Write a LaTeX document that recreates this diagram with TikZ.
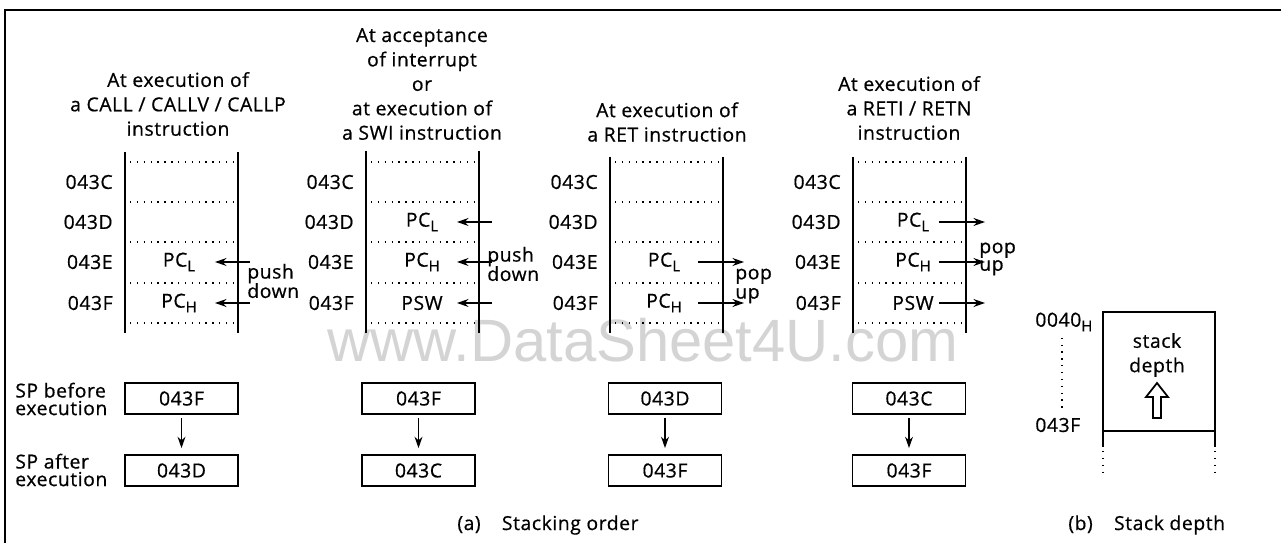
\documentclass[tikz,border=0pt]{standalone}
\usepackage{fontspec}
\setmainfont{Open Sans}[FakeBold=0.6, LetterSpace=3]
\newfontfamily\wmfont{Liberation Sans}
\usetikzlibrary{arrows.meta,calc}
\newcommand{\lsub}[1]{\raisebox{-0.45ex}{\fontsize{8.5}{8.5}\selectfont #1}}
\newcommand{\tightls}{\setlength{\lineskiplimit}{-20pt}}
\begin{document}
\begin{tikzpicture}[x=0.02cm,y=-0.02cm,
  every node/.style={font=\fontsize{11}{13.9}\selectfont, inner sep=0pt},
  stackline/.style={line width=1.2pt},
  dotline/.style={line width=0.8pt, dash pattern=on 0.8pt off 3.1pt},
  arr/.style={line width=0.9pt, -{Stealth[length=6.5pt,width=4.5pt]}},
  spbox/.style={draw, line width=1pt, minimum width=2.26cm, minimum height=0.62cm},
  title/.style={align=center},
  note/.style={align=left, font=\fontsize{11}{11}\selectfont\tightls},
  note4/.style={align=left, font=\fontsize{11}{10}\selectfont\tightls},
  sptext/.style={align=left, font=\fontsize{11}{10}\selectfont\tightls},
]
\useasboundingbox (0,0) rectangle (1281,543);
% watermark
\node[font=\fontsize{34}{34}\wmfont\selectfont, text=black!17, anchor=base] (wm) at (643,362) {www.DataSheet4U.com};
% frame
\draw[line width=1.4pt] (5,543) -- (5,10) -- (1281,10);
% stacks
\foreach \i/\xl/\yt in {1/125/152,2/366/151,3/610/157,4/853/157} {
  \draw[stackline] (\xl,\yt) -- (\xl,333);
  \draw[stackline] (\xl+113,\yt) -- (\xl+113,333);
  \foreach \yy in {162,202,242,283,323} \draw[dotline] (\xl+5,\yy) -- (\xl+108,\yy);
  \foreach \r/\yy in {C/182,D/222,E/262,F/303} \node[anchor=east] (lab\i\r) at (\xl-12,\yy) {043\r};
}
% titles
\node[title] (t1) at (178,104) {At execution of\\a CALL\ /\ CALLV\ /\ CALLP\\instruction};
\node[title] (t2) at (422,84) {At acceptance\\of interrupt\\or\\at execution of\\a SWI instruction};
\node[title] (t3) at (667,122) {At execution of\\a RET instruction};
\node[title] (t4) at (909,108) {At execution of\\a RETI\ /\ RETN\\instruction};
% stack 1 contents
\node (s1e) at (179,262) {PC\lsub{L}};
\node (s1f) at (179,303) {PC\lsub{H}};
\coordinate (s1ea) at (250,262); \coordinate (s1et) at (215,262);
\coordinate (s1fa) at (250,303); \coordinate (s1ft) at (215,303);
\draw[arr] (s1ea) -- (s1et);
\draw[arr] (s1fa) -- (s1ft);
\node[note, anchor=west] (s1pd) at (247,281) {push\\down};
% stack 2 contents
\node (s2d) at (422,222) {PC\lsub{L}};
\node (s2e) at (422,262) {PC\lsub{H}};
\node (s2f) at (422,303) {PSW};
\foreach \r/\yy in {d/222,e/262,f/303} {
  \coordinate (s2\r a) at (492,\yy); \coordinate (s2\r t) at (457,\yy);
  \draw[arr] (s2\r a) -- (s2\r t);
}
\node[note, anchor=west] (s2pd) at (487,264) {push\\down};
% stack 3 contents
\node (s3e) at (664,262) {PC\lsub{L}};
\node (s3f) at (664,303) {PC\lsub{H}};
\foreach \r/\yy in {e/262,f/303} {
  \coordinate (s3\r a) at (698,\yy); \coordinate (s3\r t) at (744,\yy);
  \draw[arr] (s3\r a) -- (s3\r t);
}
\node[note, anchor=west] (s3pu) at (735,286) {pop\\up};
% stack 4 contents
\node (s4d) at (913,222) {PC\lsub{L}};
\node (s4e) at (913,262) {PC\lsub{H}};
\node (s4f) at (913,303) {PSW};
\foreach \r/\yy in {d/222,e/262,f/303} {
  \coordinate (s4\r a) at (939,\yy); \coordinate (s4\r t) at (985,\yy);
  \draw[arr] (s4\r a) -- (s4\r t);
}
\node[note4, anchor=west] (s4pu) at (979,259) {pop\\up};
% SP boxes
\node[sptext, anchor=west] (spb) at (15,399) {SP before\\execution};
\node[sptext, anchor=west] (spa) at (15,470) {SP after\\execution};
\foreach \i/\xc/\va/\vb in {1/181.5/043F/043D, 2/418.5/043F/043C, 3/665/043D/043F, 4/909/043C/043F} {
  \node[spbox] (b\i a) at (\xc,398.5) {\va};
  \node[spbox] (b\i b) at (\xc,470.5) {\vb};
  \draw[arr, shorten <=0.06cm, shorten >=0.12cm] (b\i a.south) -- (b\i b.north);
}
% stack depth
\draw[stackline] (1103,447) -- (1103,312) -- (1215,312) -- (1215,447);
\draw[stackline] (1103,431) -- (1215,431);
\draw[dotline] (1103,451) -- (1103,474);
\draw[dotline] (1215,451) -- (1215,474);
\node[anchor=west] (d0040) at (1035,322) {0040\lsub{H}};
\node[anchor=west] (d043f) at (1035,425) {043F};
\draw[dotline] ($(d0040.south west)+(27,6)$) -- ($(d043f.north west)+(27,-6)$);
\node[title] (sd) at (1157,355) {stack\\depth};
\draw[line width=1pt] (1157,383) -- (1168,397) -- (1161,397) -- (1161,418) -- (1153,418) -- (1153,397) -- (1146,397) -- cycle;
% captions
\node[anchor=west] (capa) at (457,525) {(a)\hspace{1.1em}Stacking order};
\node[anchor=west] (capb) at (1068,525) {(b)\hspace{1.1em}Stack depth};
\end{tikzpicture}
\end{document}
